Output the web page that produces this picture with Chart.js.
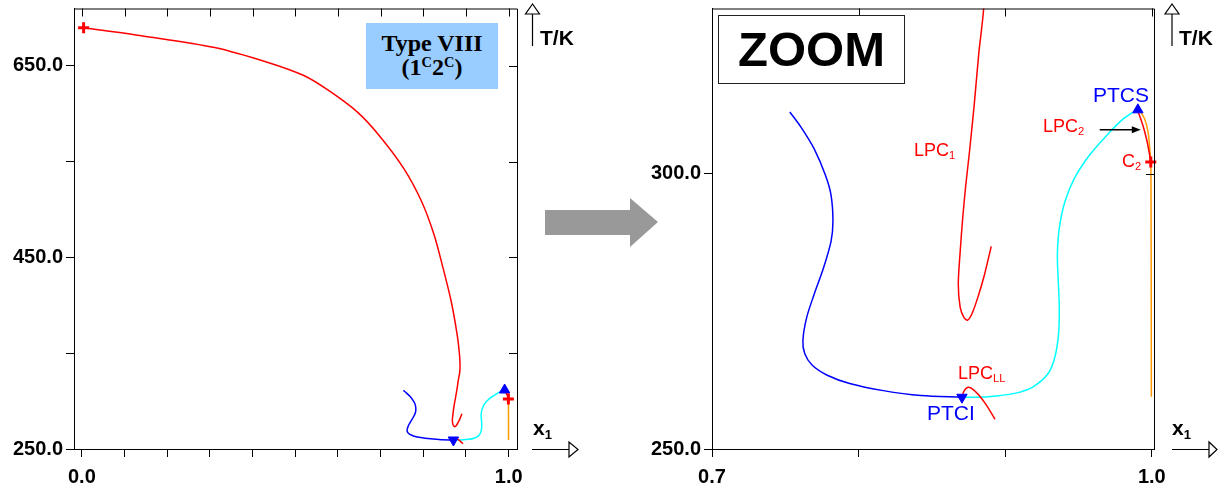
<!DOCTYPE html>
<html>
<head>
<meta charset="utf-8">
<title>Type VIII phase diagram</title>
<script src="https://cdn.jsdelivr.net/npm/chart.js@4.4.1/dist/chart.umd.min.js"></script>
<style>
  body { margin: 0; background: #fff; }
  #wrap { position: relative; width: 1227px; height: 493px; overflow: hidden; font-family: "Liberation Sans", Arial, sans-serif; }
  canvas { position: absolute; top: 0; }
  #leftChart { left: 0; }
  #rightChart { left: 640px; }
  svg { position: absolute; left: 0; top: 0; pointer-events: none; }
  .lbl { position: absolute; line-height: 1; white-space: nowrap; }
  .lbl sub { font-size: 0.62em; vertical-align: -0.28em; line-height: 0; }
  .red { color: #ff0000; font-size: 18px; }
  .blue { color: #0000ff; font-size: 21px; }
  .axis { color: #000; font-weight: bold; font-size: 21px; }
  #typeBox {
    position: absolute; left: 366px; top: 23px; width: 132px; height: 66px;
    background: #99ccff; text-align: center;
    font-family: "Liberation Serif", "Times New Roman", serif; font-weight: bold;
    font-size: 24px; line-height: 24px; box-sizing: border-box; padding-top: 8px;
  }
  #typeBox sup { font-size: 0.6em; vertical-align: 0.55em; line-height: 0; }
  #zoomBox {
    position: absolute; left: 718px; top: 15px; width: 187px; height: 69px;
    box-sizing: border-box; border: 1.5px solid #222; background: #fff;
    font-weight: bold; font-size: 49px; line-height: 66px; text-align: center;
  }
</style>
</head>
<body>
<div id="wrap">
  <canvas id="leftChart" width="530" height="493"></canvas>
  <canvas id="rightChart" width="530" height="493"></canvas>

  <svg width="1227" height="493">
    <!-- big grey arrow between the two panels -->
    <polygon points="545,210 630,210 630,198 658,222 630,247 630,235 545,235" fill="#999999"/>
    <!-- T/K and x1 axis arrows, left panel -->
    <line x1="532.5" y1="14" x2="532.5" y2="46" stroke="#000" stroke-width="1.2"/>
    <polygon points="532.5,4 525.5,14 539.5,14" fill="#fff" stroke="#000" stroke-width="1.2"/>
    <line x1="532" y1="449.5" x2="569" y2="449.5" stroke="#000" stroke-width="1.2"/>
    <polygon points="569,442 569,457 578,449.5" fill="#fff" stroke="#000" stroke-width="1.2"/>
    <!-- right panel -->
    <line x1="1172" y1="14" x2="1172" y2="46" stroke="#000" stroke-width="1.2"/>
    <polygon points="1172,4 1165,14 1179,14" fill="#fff" stroke="#000" stroke-width="1.2"/>
    <line x1="1172" y1="449.5" x2="1209" y2="449.5" stroke="#000" stroke-width="1.2"/>
    <polygon points="1209,442 1209,457 1217,449.5" fill="#fff" stroke="#000" stroke-width="1.2"/>
  </svg>

  <div class="lbl axis" style="left:540px; top:27px;">T/K</div>
  <div class="lbl axis" style="left:533px; top:417px;">x<sub>1</sub></div>
  <div class="lbl axis" style="left:1179px; top:27px;">T/K</div>
  <div class="lbl axis" style="left:1172px; top:417px;">x<sub>1</sub></div>

  <div id="typeBox">Type VIII<br>(1<sup>C</sup>2<sup>C</sup>)</div>
  <div id="zoomBox">ZOOM</div>

  <div class="lbl blue" style="left:1093px; top:84px;">PTCS</div>
  <div class="lbl red" style="left:1043px; top:117px;">LPC<sub>2</sub></div>
  <div class="lbl red" style="left:914px; top:141px;">LPC<sub>1</sub></div>
  <div class="lbl red" style="left:1122px; top:152px;">C<sub>2</sub></div>
  <div class="lbl red" style="left:958px; top:364px;">LPC<sub>LL</sub></div>
  <div class="lbl blue" style="left:927px; top:402px;">PTCI</div>
</div>

<script>
// ---- data (x1 = mole fraction, T in K) ----

// LPC1: critical line starting at the critical point of component 1
const lpc1X = [0.004, 0.143, 0.311, 0.436, 0.52, 0.578, 0.645, 0.696, 0.754, 0.796, 0.825, 0.846, 0.865, 0.879, 0.8845, 0.886, 0.8853, 0.882, 0.879, 0.8756, 0.8731, 0.871, 0.8693, 0.868, 0.8693, 0.8718, 0.8744, 0.8777, 0.882, 0.8859, 0.8905];
const lpc1T = [690.0, 681.4, 669.3, 653.7, 640.0, 624.4, 602.0, 577.7, 543.1, 508.5, 474.0, 439.4, 404.8, 370.3, 350.0, 338.0, 330.0, 321.9, 312.9, 303.9, 297.9, 291.9, 285.9, 279.9, 275.7, 273.9, 273.4, 274.8, 278.1, 281.7, 286.8];

// LPC_LL: short liquid-liquid critical line near PTCI
const lpcLLX = [0.871, 0.8726, 0.8749, 0.8782, 0.882, 0.8871, 0.893];
const lpcLLT = [260.0, 260.8, 261.2, 260.8, 259.8, 258.0, 255.4];

// blue branch ending at PTCI
const blueX = [0.7531, 0.7608, 0.7697, 0.7774, 0.7812, 0.7825, 0.7812, 0.7761, 0.7697, 0.7646, 0.762, 0.7633, 0.7684, 0.7786, 0.7939, 0.8169, 0.8425, 0.8705];
const blueT = [311.2, 308.4, 304.5, 299.7, 296.1, 291.3, 287.7, 282.9, 278.1, 273.9, 269.7, 267.3, 265.2, 263.4, 261.9, 260.6, 259.7, 259.4];

// cyan branch PTCI -> PTCS
const cyanX = [0.8705, 0.8884, 0.9063, 0.919, 0.9293, 0.9339, 0.9364, 0.9369, 0.9362, 0.9356, 0.9369, 0.9407, 0.9471, 0.9573, 0.9701, 0.9803, 0.9867, 0.9905];
const cyanT = [259.4, 259.5, 260.1, 261.3, 263.7, 266.7, 270.9, 275.7, 280.5, 285.3, 290.1, 294.9, 299.1, 303.3, 307.2, 309.9, 311.1, 311.6];

// LPC2: PTCS -> C2
const lpc2X = [0.9905, 0.994, 0.9964, 0.9982, 0.9993];
const lpc2T = [311.4, 308.7, 306.3, 303.9, 302.1];

// orange line near pure component 2
const orangeX = [0.9915, 0.9952, 0.9975, 0.9986, 0.9993, 0.9995, 0.9996, 0.9997];
const orangeT = [311.6, 309.9, 307.5, 304.5, 302.1, 293.7, 280.0, 259.5];

// special points
const critX = [0.004, 0.9993];
const critT = [690.0, 302.1];
const ptcsX = [0.9905];
const ptcsT = [311.6];
const ptciX = [0.8705];
const ptciT = [259.4];

// arrow pointing at LPC2 (zoom panel)
const arrowX = [0.9645, 0.9925];
const arrowT = 308.0;

// ticks
const leftXTicks = [0, 0.1, 0.2, 0.3, 0.4, 0.5, 0.6, 0.7, 0.8, 0.9, 1.0];
const leftXLabels = [0, 1.0];
const leftYTicks = [250, 350, 450, 550, 650];
const leftYLabels = [250, 450, 650];
const rightXTicks = [0.7, 0.8, 0.9, 1.0];
const rightXLabels = [0.7, 1.0];
const rightYTicks = [250, 300];
const rightYLabels = [250, 300];

function pts(xs, ts) {
    return xs.map((x, i) => ({ x: x, y: ts[i] }));
}

function curve(xs, ts, color) {
    return {
        data: pts(xs, ts), showLine: true, borderColor: color, backgroundColor: color,
        borderWidth: 1.5, pointRadius: 0, tension: 0.3, fill: false
    };
}

function marker(xs, ts, style, color, rotation) {
    return {
        data: pts(xs, ts), showLine: false, pointStyle: style, pointRadius: style === 'cross' ? 5.5 : 6,
        pointBorderWidth: style === 'cross' ? 3 : 1, borderColor: color, backgroundColor: color,
        pointRotation: rotation || 0, clip: false
    };
}

// border on all four sides plus inward ticks on top and right, and the optional arrow
const frameTicks = {
    id: 'frameTicks',
    afterDraw(chart, args, opts) {
        const ctx = chart.ctx;
        const a = chart.chartArea;
        const x = chart.scales.x;
        const y = chart.scales.y;
        ctx.save();
        ctx.strokeStyle = '#000';
        ctx.lineWidth = 1;
        ctx.beginPath();
        ctx.moveTo(a.left, a.top + 0.5);
        ctx.lineTo(a.right + 0.5, a.top + 0.5);
        ctx.lineTo(a.right + 0.5, a.bottom);
        opts.topTicks.forEach(v => {
            const px = Math.round(x.getPixelForValue(v)) + 0.5;
            ctx.moveTo(px, a.top);
            ctx.lineTo(px, a.top + 8);
        });
        opts.rightTicks.forEach(v => {
            const py = Math.round(y.getPixelForValue(v)) + 0.5;
            ctx.moveTo(a.right - 8, py);
            ctx.lineTo(a.right, py);
        });
        ctx.stroke();

        if (opts.arrow) {
            const x0 = x.getPixelForValue(opts.arrow.x[0]);
            const x1 = x.getPixelForValue(opts.arrow.x[1]);
            const py = y.getPixelForValue(opts.arrow.t);
            ctx.fillStyle = '#000';
            ctx.lineWidth = 1.5;
            ctx.beginPath();
            ctx.moveTo(x0, py);
            ctx.lineTo(x1 - 8, py);
            ctx.stroke();
            ctx.beginPath();
            ctx.moveTo(x1, py);
            ctx.lineTo(x1 - 9, py - 3.5);
            ctx.lineTo(x1 - 9, py + 3.5);
            ctx.closePath();
            ctx.fill();
        }
        ctx.restore();
    }
};

function buildChart(id, c) {
    const tickFont = { family: 'Liberation Sans', weight: 'bold', size: 20 };
    const ctx = document.getElementById(id).getContext('2d');
    return new Chart(ctx, {
        type: 'scatter',
        data: {
            datasets: [
                marker(critX, critT, 'cross', '#ff0000'),
                marker(ptcsX, ptcsT, 'triangle', '#0000ff'),
                marker(ptciX, ptciT, 'triangle', '#0000ff', 180),
                curve(lpc2X, lpc2T, '#ff0000'),
                curve(orangeX, orangeT, '#ff9900'),
                curve(lpcLLX, lpcLLT, '#ff0000'),
                curve(lpc1X, lpc1T, '#ff0000'),
                curve(blueX, blueT, '#0000ff'),
                curve(cyanX, cyanT, '#00ffff')
            ]
        },
        options: {
            responsive: false,
            devicePixelRatio: 1,
            animation: false,
            layout: { padding: { top: 5, right: c.padRight, left: 0, bottom: 0 } },
            plugins: {
                legend: { display: false },
                tooltip: { enabled: false },
                frameTicks: { topTicks: c.xTicks, rightTicks: c.yTicks, arrow: c.arrow }
            },
            scales: {
                x: {
                    type: 'linear', min: c.xMin, max: c.xMax,
                    afterBuildTicks: s => { s.ticks = c.xTicks.map(v => ({ value: v })); },
                    afterFit: s => { s.height = 44; s.paddingLeft = 0; s.paddingRight = 0; },
                    grid: { drawOnChartArea: false, drawTicks: true, tickLength: 8, color: '#000' },
                    border: { display: true, color: '#000', width: 1 },
                    ticks: {
                        autoSkip: false, maxRotation: 0, padding: 8, color: '#000', font: tickFont,
                        callback: v => c.xLabels.indexOf(v) >= 0 ? v.toFixed(1) : ''
                    }
                },
                y: {
                    type: 'linear', min: c.yMin, max: c.yMax,
                    afterBuildTicks: s => { s.ticks = c.yTicks.map(v => ({ value: v })); },
                    afterFit: s => { s.width = c.yWidth; s.paddingTop = 0; s.paddingBottom = 0; },
                    grid: { drawOnChartArea: false, drawTicks: true, tickLength: 8, color: '#000' },
                    border: { display: true, color: '#000', width: 1 },
                    ticks: {
                        autoSkip: false, padding: 3, color: '#000', font: tickFont,
                        callback: v => c.yLabels.indexOf(v) >= 0 ? v.toFixed(1) : ''
                    }
                }
            }
        },
        plugins: [frameTicks]
    });
}

// full diagram
buildChart('leftChart', {
    xMin: -0.0185, xMax: 1.0195, yMin: 250, yMax: 710,
    xTicks: leftXTicks, xLabels: leftXLabels, yTicks: leftYTicks, yLabels: leftYLabels,
    padRight: 13, yWidth: 74, arrow: null
});

// zoomed region
buildChart('rightChart', {
    xMin: 0.7, xMax: 1.0015, yMin: 250, yMax: 330,
    xTicks: rightXTicks, xLabels: rightXLabels, yTicks: rightYTicks, yLabels: rightYLabels,
    padRight: 16, yWidth: 72, arrow: { x: arrowX, t: arrowT }
});
</script>
</body>
</html>
